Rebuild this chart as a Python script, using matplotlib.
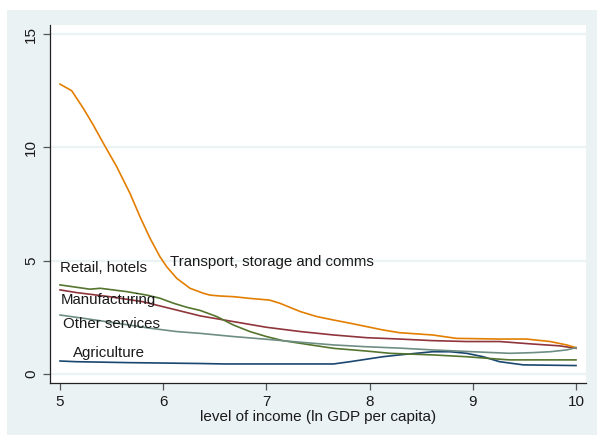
import matplotlib
matplotlib.use("Agg")
import matplotlib.pyplot as plt
from matplotlib.patches import Rectangle

plt.rcParams['font.family'] = ['Liberation Sans', 'DejaVu Sans']

# smoothed sector shares against log income
x_transport = [5.0, 5.113, 5.226, 5.323, 5.42, 5.55, 5.678, 5.775, 5.872, 5.969, 6.034,
               6.131, 6.26, 6.389, 6.453, 6.55, 6.68, 6.85, 7.03, 7.13, 7.33, 7.49, 7.65,
               7.81, 8.13, 8.29, 8.61, 8.84, 9.26, 9.52, 9.75, 9.91, 10.0]
y_transport = [12.79, 12.5, 11.72, 10.98, 10.18, 9.14, 7.97, 6.94, 5.99, 5.17, 4.73,
               4.22, 3.78, 3.56, 3.48, 3.44, 3.41, 3.33, 3.26, 3.12, 2.75, 2.53, 2.38,
               2.24, 1.94, 1.82, 1.72, 1.57, 1.54, 1.54, 1.43, 1.28, 1.16]

x_retail = [5.0, 5.29, 5.39, 5.65, 5.84, 5.97, 6.1, 6.23, 6.36, 6.52, 6.68, 6.84, 7.0,
            7.16, 7.33, 7.49, 7.65, 7.97, 8.2, 8.61, 8.94, 9.26, 9.36, 10.0]
y_retail = [3.93, 3.74, 3.78, 3.63, 3.48, 3.34, 3.12, 2.94, 2.8, 2.53, 2.16, 1.87, 1.65,
            1.47, 1.35, 1.24, 1.13, 1.01, 0.91, 0.84, 0.76, 0.65, 0.62, 0.62]

x_manuf = [5.0, 5.16, 5.48, 5.8, 6.13, 6.36, 6.68, 7.0, 7.33, 7.65, 7.97, 8.29, 8.61,
           8.94, 9.26, 9.58, 9.84, 10.0]
y_manuf = [3.71, 3.59, 3.41, 3.19, 2.82, 2.56, 2.31, 2.06, 1.87, 1.72, 1.6, 1.54, 1.47,
           1.43, 1.43, 1.32, 1.24, 1.13]

x_other = [5.0, 5.22, 5.55, 5.87, 6.13, 6.36, 6.68, 7.0, 7.33, 7.65, 7.97, 8.29, 8.61,
           9.1, 9.36, 9.58, 9.75, 9.91, 10.0]
y_other = [2.6, 2.46, 2.24, 2.02, 1.87, 1.79, 1.65, 1.53, 1.4, 1.28, 1.2, 1.14, 1.06,
           0.96, 0.91, 0.94, 0.98, 1.06, 1.16]

x_agri = [5.0, 5.16, 5.65, 6.36, 6.6, 7.65, 7.81, 7.97, 8.13, 8.29, 8.61, 8.78, 8.94,
          9.1, 9.26, 9.49, 10.0]
y_agri = [0.57, 0.54, 0.5, 0.46, 0.44, 0.44, 0.54, 0.65, 0.76, 0.84, 0.98, 0.98, 0.91,
          0.76, 0.54, 0.4, 0.37]

labels = ["Retail, hotels", "Transport, storage and comms", "Manufacturing",
          "Other services", "Agriculture"]
label_x = [5.0, 6.07, 5.01, 5.03, 5.13]
label_y = [4.49, 4.78, 3.09, 2.04, 0.74]

W, H = 597, 437
fig = plt.figure(figsize=(W / 100, H / 100), dpi=100)
fig.patch.set_facecolor('white')
# stata style outer panel
fig.patches.append(Rectangle((7 / W, (H - 435) / H), 590 / W, 425 / H,
                             transform=fig.transFigure, facecolor='#EAF2F3',
                             edgecolor='none', zorder=-10))

ax = fig.add_axes([50 / W, (H - 383) / H, 536 / W, 358 / H])
ax.set_facecolor('white')
ax.set_xlim(4.903, 10.097)
ax.set_ylim(-0.4, 15.4)

for g in [0, 5, 10, 15]:
    ax.axhline(g, color='#EAF2F3', lw=1.6, zorder=1)

ax.plot(x_agri, y_agri, color='#1A476F', lw=1.2, zorder=3)
ax.plot(x_manuf, y_manuf, color='#90353B', lw=1.2, zorder=3)
ax.plot(x_retail, y_retail, color='#55752F', lw=1.2, zorder=3)
ax.plot(x_transport, y_transport, color='#E37E00', lw=1.2, zorder=3)
ax.plot(x_other, y_other, color='#6E8E84', lw=1.2, zorder=3)

for t, lx, ly in zip(labels, label_x, label_y):
    ax.text(lx, ly, t, fontsize=10.8, color='#1a1a1a', va='baseline', ha='left', zorder=4)

ax.spines['top'].set_visible(False)
ax.spines['right'].set_visible(False)
ax.spines['left'].set_color('#222222')
ax.spines['bottom'].set_color('#222222')
ax.spines['left'].set_linewidth(0.9)
ax.spines['bottom'].set_linewidth(0.9)

ax.set_xticks([5, 6, 7, 8, 9, 10])
ax.set_yticks([0, 5, 10, 15])
ax.tick_params(axis='both', direction='out', length=5, width=0.9, color='#555555',
               labelsize=11, labelcolor='#1a1a1a')
ax.tick_params(axis='y', labelrotation=90)
for lab in ax.get_yticklabels():
    lab.set_va('center')
ax.set_xlabel("level of income (ln GDP per capita)", fontsize=11, color='#1a1a1a', labelpad=1)

fig.savefig("out.png", dpi=100, facecolor='white')
